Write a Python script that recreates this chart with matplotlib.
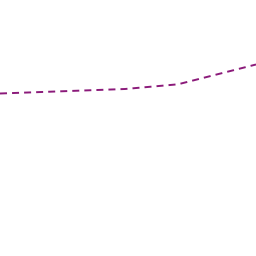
import matplotlib
matplotlib.use("Agg")
import matplotlib.pyplot as plt

x = [0, 125, 178, 256]
y = [162.5, 167, 171.7, 191.5]

fig = plt.figure(figsize=(2.56, 2.56), dpi=100)
ax = fig.add_axes([0, 0, 1, 1])
ax.plot(x, y, color="#8B1A7A", lw=1.4, dashes=(3.6, 2.6))
ax.set_xlim(0, 256)
ax.set_ylim(0, 256)
ax.axis("off")
fig.savefig("out.png", dpi=100)
